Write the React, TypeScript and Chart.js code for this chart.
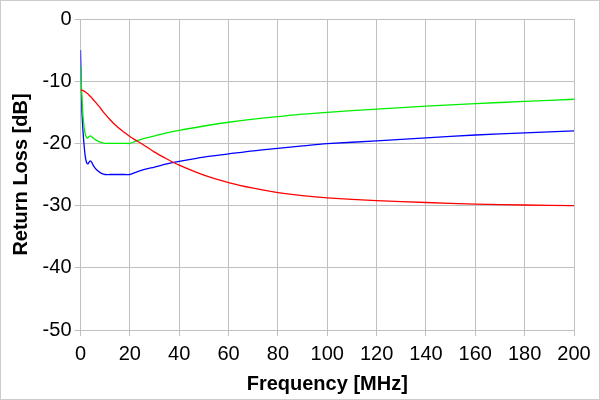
import { useEffect, useRef } from 'react'
import { Chart, registerables } from 'chart.js'

Chart.register(...registerables)

// frequency points in MHz (dense near 0 where the curves drop fast)
const freqs = [
  0, 0.5, 1, 1.5, 2, 2.5, 3, 3.5, 4, 4.5, 5, 6, 7, 8, 9, 10, 12, 14, 16, 18, 20,
  22, 25, 30, 35, 40, 50, 60, 70, 80, 90, 100, 120, 140, 160, 180, 200,
]

const redLoss = [
  -11.45, -11.45, -11.5, -11.6, -11.75, -11.9, -12.05, -12.25, -12.45, -12.65, -12.9,
  -13.35, -13.8, -14.3, -14.8, -15.3, -16.2, -17.0, -17.7, -18.3, -18.9,
  -19.4, -20.1, -21.4, -22.5, -23.5, -25.1, -26.3, -27.2, -27.9, -28.4, -28.75,
  -29.2, -29.5, -29.75, -29.9, -30.0,
]

const greenLoss = [
  -7.5, -12, -15.5, -17.5, -18.6, -19.1, -19.1, -18.9, -18.8, -18.9, -19.1,
  -19.4, -19.6, -19.8, -19.9, -20, -20, -20, -20, -20, -20,
  -19.7, -19.3, -18.8, -18.3, -17.9, -17.2, -16.6, -16.1, -15.7, -15.3, -15.0,
  -14.5, -14.0, -13.6, -13.25, -12.9,
]

const blueLoss = [
  -5, -14, -18, -20.5, -22.3, -23.1, -23.3, -23.0, -22.8, -23.0, -23.4,
  -24.0, -24.4, -24.7, -24.9, -25, -25, -25, -25, -25, -25,
  -24.7, -24.3, -23.8, -23.3, -22.9, -22.2, -21.7, -21.2, -20.8, -20.4, -20.05,
  -19.6, -19.1, -18.65, -18.3, -18.0,
]

const toPoints = (vals: number[]) => freqs.map((f, i) => ({ x: f, y: vals[i] }))

const gridColor = '#c0c0c0'
const font = { family: '"Liberation Sans", Arial, sans-serif', size: 20 }

export default function App() {
  const canvasRef = useRef<HTMLCanvasElement>(null)
  const chartRef = useRef<Chart | null>(null)

  useEffect(() => {
    document.body.style.margin = '0'
    if (!canvasRef.current) return
    const ctx = canvasRef.current.getContext('2d')
    if (!ctx) return

    const line = (color: string, vals: number[]) => ({
      data: toPoints(vals),
      borderColor: color,
      borderWidth: 1.3,
      pointRadius: 0,
      tension: 0.3,
      fill: false,
    })

    chartRef.current = new Chart(ctx, {
      type: 'line',
      data: {
        datasets: [
          line('#ff0000', redLoss),
          line('#00ee00', greenLoss),
          line('#0000ff', blueLoss),
        ],
      },
      options: {
        responsive: true,
        maintainAspectRatio: false,
        animation: false,
        layout: { padding: { top: 18, right: 25, left: 0, bottom: 0 } },
        plugins: {
          legend: { display: false },
          tooltip: { enabled: false },
        },
        scales: {
          x: {
            type: 'linear',
            min: 0,
            max: 200,
            ticks: { stepSize: 20, color: '#000', font, padding: 6 },
            grid: { color: gridColor, tickLength: 6 },
            border: { color: gridColor },
            title: {
              display: true,
              text: 'Frequency [MHz]',
              color: '#000',
              font: { ...font, weight: 'bold' },
              padding: { top: 0, bottom: 3 },
            },
            afterFit: (s: any) => {
              s.height = 69
            },
          },
          y: {
            min: -50,
            max: 0,
            ticks: { stepSize: 10, color: '#000', font, padding: 3 },
            grid: { color: gridColor, tickLength: 6 },
            border: { color: gridColor },
            title: {
              display: true,
              text: 'Return Loss [dB]',
              color: '#000',
              font: { ...font, weight: 'bold' },
              padding: { top: 8, bottom: 0 },
            },
            afterFit: (s: any) => {
              s.width = 79.5
            },
          },
        },
      },
    } as any)

    return () => {
      chartRef.current?.destroy()
      chartRef.current = null
    }
  }, [])

  return (
    <div
      style={{
        position: 'absolute',
        left: 0,
        top: 0,
        width: 600,
        height: 400,
        boxSizing: 'border-box',
        border: '1px solid #cccccc',
        background: '#fff',
      }}
    >
      <div style={{ position: 'relative', width: 598, height: 398 }}>
        <canvas ref={canvasRef} role="img" aria-label="Return loss versus frequency" />
      </div>
    </div>
  )
}
